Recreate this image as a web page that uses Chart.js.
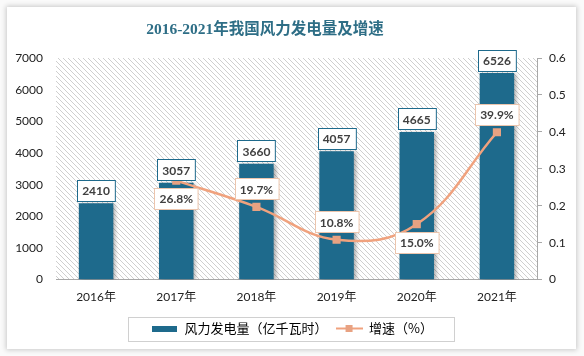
<!DOCTYPE html>
<html><head><meta charset="utf-8">
<script src="https://cdn.jsdelivr.net/npm/chart.js@4"></script>
<style>
html,body{margin:0;padding:0;background:#fff;}
#wrap{position:relative;width:584px;height:356px;overflow:hidden;background:#fafafa}
#card{position:absolute;left:7px;top:7px;width:569px;height:342px;background:#fff;box-shadow:0 0 5px 1px rgba(0,0,0,0.2);}
#title{position:absolute;left:4px;width:522px;top:18px;text-align:center;font:bold 15.5px "Liberation Serif","Noto Sans CJK SC";color:#2e6e86;line-height:22px;}
canvas{position:absolute;left:0;top:0}
</style></head>
<body>
<div id="wrap">
  <div id="card"></div>
  <canvas id="c" width="584" height="356"></canvas>
  <div id="title">2016-2021年我国风力发电量及增速</div>
</div>
<script>
const years = ['2016年','2017年','2018年','2019年','2020年','2021年'];
const windPower = [2410, 3057, 3660, 4057, 4665, 6526];
const growthRate = [null, 0.268, 0.197, 0.108, 0.150, 0.399];
const growthLabels = ['', '26.8%', '19.7%', '10.8%', '15.0%', '39.9%'];
const leftTickLabels = ['0','1000','2000','3000','4000','5000','6000','7000'];
const rightTickLabels = ['0','0.1','0.2','0.3','0.4','0.5','0.6'];
const seriesNames = ['风力发电量（亿千瓦时）', '增速（%）'];

const BAR = '#1e6a8c', LINE = '#f0a27e', MARK = '#e8a282';
const FONT = "Lato, 'Noto Sans CJK SC', sans-serif";

function hatchPattern(ctx){
  const c=document.createElement('canvas'); c.width=5; c.height=5;
  const g=c.getContext('2d'); g.strokeStyle='#c9c9c9'; g.lineWidth=0.9;
  g.beginPath(); g.moveTo(0,0); g.lineTo(5,5); g.moveTo(-1,4); g.lineTo(1,6); g.moveTo(4,-1); g.lineTo(6,1); g.stroke();
  return ctx.createPattern(c,'repeat');
}
function barSwatch(){ const c=document.createElement('canvas'); c.width=25; c.height=6;
  const g=c.getContext('2d'); g.fillStyle=BAR; g.fillRect(0,0,25,6); return c; }
function lineSwatch(){ const c=document.createElement('canvas'); c.width=27; c.height=9;
  const g=c.getContext('2d'); g.strokeStyle=LINE; g.lineWidth=2; g.beginPath(); g.moveTo(0,4.5); g.lineTo(27,4.5); g.stroke();
  g.fillStyle=MARK; g.fillRect(10,1,7,7); return c; }

const bgPlugin = {
  id:'bg',
  beforeDraw(chart){
    const {ctx, chartArea:a} = chart;
    ctx.save(); ctx.fillStyle = hatchPattern(ctx); ctx.fillRect(a.left, a.top, a.right-a.left, a.bottom-a.top); ctx.restore();
  },
  beforeDatasetDraw(chart, args){
    const ctx = chart.ctx; ctx.save();
    if (args.meta.type === 'bar') {
      ctx.shadowColor='rgba(0,0,0,0.35)'; ctx.shadowBlur=4; ctx.shadowOffsetX=2; ctx.shadowOffsetY=1;
    }
  },
  afterDatasetDraw(chart){ chart.ctx.restore(); },
  afterDatasetsDraw(chart){
    const ctx = chart.ctx;
    ctx.save();
    ctx.font = 'bold 12px ' + FONT; ctx.textAlign='center'; ctx.textBaseline='middle';
    const box = (cx, cy, txt, border) => {
      const w = ctx.measureText(txt).width + 10, h = 21;
      const x = Math.round(cx - w/2)+0.5, y = Math.round(cy - h/2)+0.5;
      ctx.fillStyle='#fff'; ctx.fillRect(x,y,w,h);
      ctx.strokeStyle=border; ctx.lineWidth=1; ctx.strokeRect(x,y,w,h);
      ctx.fillStyle='#404040'; ctx.fillText(txt, cx, cy+1);
    };
    const barMeta = chart.getDatasetMeta(0);
    barMeta.data.forEach((el,i)=>{ box(el.x, el.y - 13, String(windPower[i]), BAR); });
    const lineMeta = chart.getDatasetMeta(1);
    const side = [0, 1, -1, -1, 1, -1];
    lineMeta.data.forEach((el,i)=>{
      if (growthRate[i] === null) return;
      box(el.x, el.y + side[i]*18, growthLabels[i], '#ecc5ad');
    });
    const hb = chart.legend.legendHitBoxes;
    if (hb && hb.length){
      const l = hb[0].left - 23, r = hb[hb.length-1].left + hb[hb.length-1].width + 21;
      const cy = hb[0].top + hb[0].height/2;
      ctx.strokeStyle='#d0d0d0'; ctx.lineWidth=1;
      ctx.strokeRect(Math.round(l)+0.5, Math.round(cy-12)+0.5, Math.round(r-l), 24);
    }
    ctx.restore();
  }
};

new Chart(document.getElementById('c'), {
  data: {
    labels: years,
    datasets: [
      { type:'bar', label: seriesNames[0], data: windPower, yAxisID:'y', backgroundColor: BAR,
        barPercentage:0.86, categoryPercentage:0.5, order:2 },
      { type:'line', label: seriesNames[1], data: growthRate, yAxisID:'y1', borderColor: LINE, borderWidth:2.5,
        tension:0.4, spanGaps:true, pointStyle:'rect', pointRadius:4, pointBackgroundColor: MARK, pointBorderColor: MARK, order:1 }
    ]
  },
  options: {
    responsive:false, animation:false,
    layout:{ padding:{ top:58, left:0, right:0, bottom:11 } },
    plugins:{
      tooltip:{enabled:false},
      title:{display:false},
      legend:{
        position:'bottom',
        labels:{
          usePointStyle:true, pointStyleWidth:27, boxHeight:9, padding:8,
          color:'#333', font:{size:13, family:"'Noto Sans CJK SC', sans-serif"},
          generateLabels(){
            return [
              {text: seriesNames[0], pointStyle: barSwatch(), fillStyle:BAR, strokeStyle:BAR, lineWidth:0, datasetIndex:0, hidden:false},
              {text: seriesNames[1], pointStyle: lineSwatch(), fillStyle:LINE, strokeStyle:LINE, lineWidth:0, datasetIndex:1, hidden:false}
            ];
          }
        }
      }
    },
    scales:{
      x:{ grid:{display:false, drawTicks:false}, border:{display:true, color:'#a8a8a8'},
          ticks:{color:'#222', padding:10, font:{size:12, family:FONT}} },
      y:{ position:'left', min:0, max:7000, grid:{display:false, drawTicks:false}, border:{display:false},
          ticks:{stepSize:1000, padding:13, color:'#222', font:{size:12, family:FONT},
                 callback:(v,i)=>leftTickLabels[i]},
          afterFit(s){ s.width = 56; } },
      y1:{ position:'right', min:0, max:0.6, grid:{display:true, drawOnChartArea:false, drawTicks:true, tickLength:5, color:'#a8a8a8'},
           border:{display:true, color:'#a8a8a8'},
           ticks:{stepSize:0.1, padding:7, color:'#222', font:{size:12, family:FONT},
                  callback:(v,i)=>rightTickLabels[i]},
           afterFit(s){ s.width = 47; } }
    }
  },
  plugins:[bgPlugin]
});
</script>
</body></html>
